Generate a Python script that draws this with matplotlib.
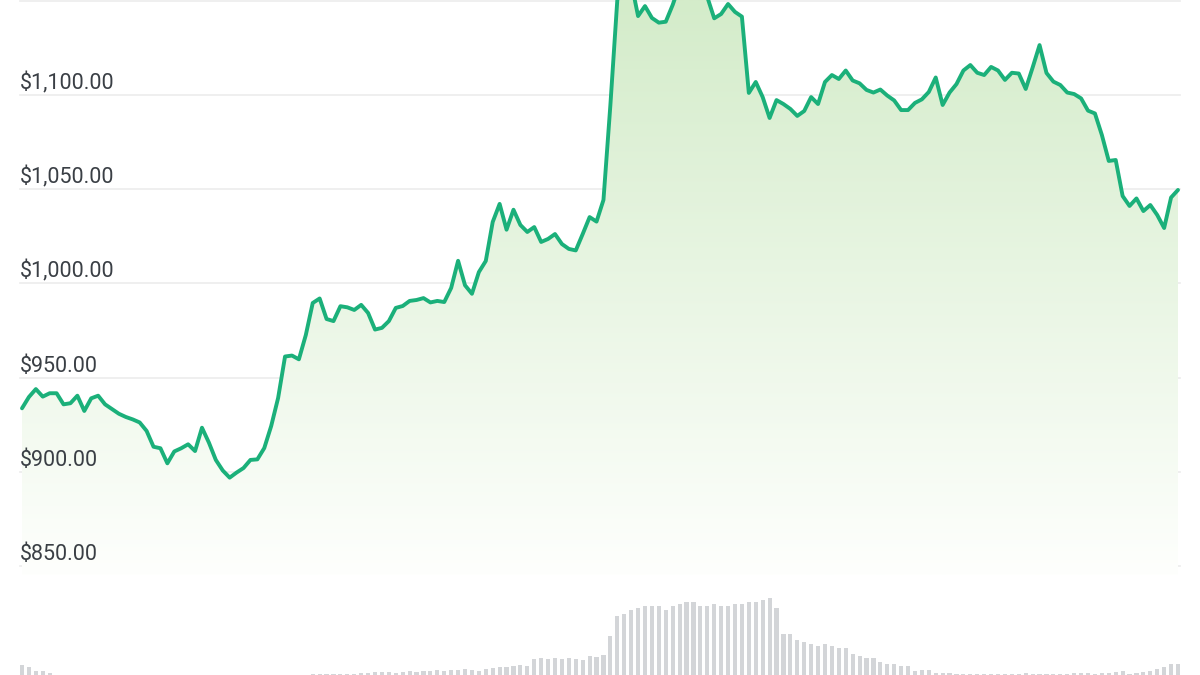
import numpy as np
import matplotlib
matplotlib.use("Agg")
import matplotlib.pyplot as plt
from matplotlib.patches import PathPatch

plt.rcParams['font.family'] = ['Roboto', 'DejaVu Sans']

# ---------------- data (hourly, 7 days) ----------------
price = [
    933.7, 939.7, 943.9, 939.9, 941.7, 941.7, 935.8, 936.4, 940.4, 932.3,
    939.0, 940.4, 935.8, 933.3, 930.8, 929.1, 927.8, 926.2, 921.7, 913.3,
    912.5, 904.5, 910.8, 912.5, 914.6, 911.0, 923.4, 915.5, 906.3, 900.7,
    896.9, 899.6, 902.0, 906.3, 906.6, 912.6, 924.3, 939.2, 961.2, 961.7,
    959.7, 972.6, 989.6, 992.0, 981.1, 980.0, 987.9, 987.3, 985.9, 988.6,
    984.3, 975.5, 976.4, 980.0, 987.0, 988.0, 990.7, 991.2, 992.2, 989.9,
    990.7, 990.1, 997.6, 1012.0, 999.0, 994.5, 1006.0, 1011.9, 1032.6, 1042.2,
    1028.5, 1039.1, 1031.0, 1027.3, 1029.9, 1022.0, 1023.6, 1026.2, 1020.9, 1018.3,
    1017.5, 1026.2, 1035.2, 1032.8, 1044.3, 1094.7, 1150.4, 1161.0, 1160.0, 1141.9,
    1147.2, 1140.9, 1138.4, 1138.9, 1147.8, 1158.4, 1161.0, 1162.1, 1160.0, 1152.0,
    1140.7, 1143.0, 1148.3, 1144.1, 1141.6, 1101.1, 1106.9, 1098.9, 1087.8, 1097.3,
    1095.2, 1092.6, 1088.9, 1091.5, 1098.9, 1095.2, 1106.9, 1110.6, 1108.5, 1113.0,
    1107.7, 1106.2, 1102.7, 1101.3, 1102.9, 1099.7, 1097.1, 1092.0, 1092.0, 1095.8,
    1097.7, 1101.6, 1109.3, 1094.7, 1101.3, 1105.8, 1113.0, 1115.9, 1111.8, 1110.6,
    1114.9, 1113.0, 1108.0, 1111.8, 1111.4, 1103.2, 1114.6, 1126.5, 1111.7, 1107.1,
    1105.3, 1101.3, 1100.5, 1098.2, 1091.7, 1090.2, 1078.8, 1065.0, 1065.5, 1046.4,
    1041.1, 1045.1, 1038.4, 1041.6, 1036.3, 1029.4, 1045.6, 1049.6,
]

volume = [
    10, 8, 4, 4, 2, 0, 0, 0, 0, 0,
    0, 0, 0, 0, 0, 0, 0, 0, 0, 0,
    0, 0, 0, 0, 0, 0, 0, 0, 0, 0,
    0, 0, 0, 0, 0, 0, 0, 0, 0, 0,
    0, 0, 1, 1, 1, 1, 1, 1, 1, 2,
    2, 3, 3, 3, 2, 3, 4, 3, 4, 4,
    5, 4, 5, 5, 6, 5, 4, 6, 7, 8,
    8, 9, 10, 9, 16, 17, 16, 17, 16, 17,
    16, 15, 19, 18, 20, 39, 59, 61, 65, 67,
    69, 69, 69, 65, 69, 71, 73, 73, 69, 69,
    71, 69, 69, 71, 71, 73, 73, 75, 77, 67,
    41, 41, 35, 33, 31, 29, 31, 29, 27, 27,
    21, 19, 17, 17, 13, 11, 11, 9, 9, 4,
    5, 5, 2, 2, 2, 1, 1, 1, 1, 1,
    1, 1, 1, 1, 1, 2, 1, 1, 1, 1,
    1, 1, 2, 2, 2, 1, 2, 2, 3, 4,
    1, 2, 3, 4, 6, 8, 11, 11,
]

grid_values = [850, 900, 950, 1000, 1050, 1100, 1150]
grid_labels = ["$850.00", "$900.00", "$950.00", "$1,000.00", "$1,050.00",
               "$1,100.00", "$1,150.00"]

# ---------------- figure ----------------
W, H = 1200, 675
fig = plt.figure(figsize=(W / 100, H / 100), dpi=100)
fig.patch.set_facecolor('white')

n = len(price)
x = np.arange(n)
step_px = (1178 - 22) / (n - 1)
xl = (-22 / step_px, (n - 1) + 22 / step_px)

# price axes: from y px 0 to 575
ax = fig.add_axes([0, (H - 575) / H, 1, 575 / H])
px_per_unit = (566 - 95) / 250.0
ytop = 1100 + 95 / px_per_unit
ybot = 1100 - (575 - 95) / px_per_unit
ax.set_xlim(*xl)
ax.set_ylim(ybot, ytop)
ax.axis('off')

# grid lines and labels
for v, lab in zip(grid_values, grid_labels):
    ax.axhline(v, xmin=20 / W, xmax=1180 / W, color='#ececec', lw=1.2, zorder=0.5)
    ax.annotate(lab, xy=(20 / W, v), xycoords=('axes fraction', 'data'),
                xytext=(0, 1), textcoords='offset pixels',
                ha='left', va='bottom', fontsize=15.5, color='#3a3f45',
                zorder=3, annotation_clip=False)

# gradient fill beneath line
fb = ax.fill_between(x, price, ybot, color='none', lw=0)
path = fb.get_paths()[0]
top_c = np.array([212, 236, 202]) / 255.0
bot_c = np.array([254, 255, 253]) / 255.0
t = np.linspace(0, 1, 256)[:, None]
grad = top_c[None, :] * (1 - t) + bot_c[None, :] * t
grad = grad[:, None, :]
im = ax.imshow(grad, extent=[xl[0], xl[1], ybot, ytop], aspect='auto',
               origin='upper', zorder=1, interpolation='bilinear')
patch = PathPatch(path, transform=ax.transData, facecolor='none', edgecolor='none')
ax.add_patch(patch)
im.set_clip_path(patch)

ax.plot(x, price, color='#1bb07a', lw=2.8, solid_joinstyle='round',
        solid_capstyle='round', zorder=2)

# volume axes: from y px 580 to 675
axv = fig.add_axes([0, 0, 1, 95 / H])
axv.set_xlim(*xl)
axv.set_ylim(0, 95)
axv.axis('off')
axv.bar(x, volume, width=0.6, color='#d3d5d8', zorder=1)

fig.savefig('out.png', dpi=100, facecolor='white')
